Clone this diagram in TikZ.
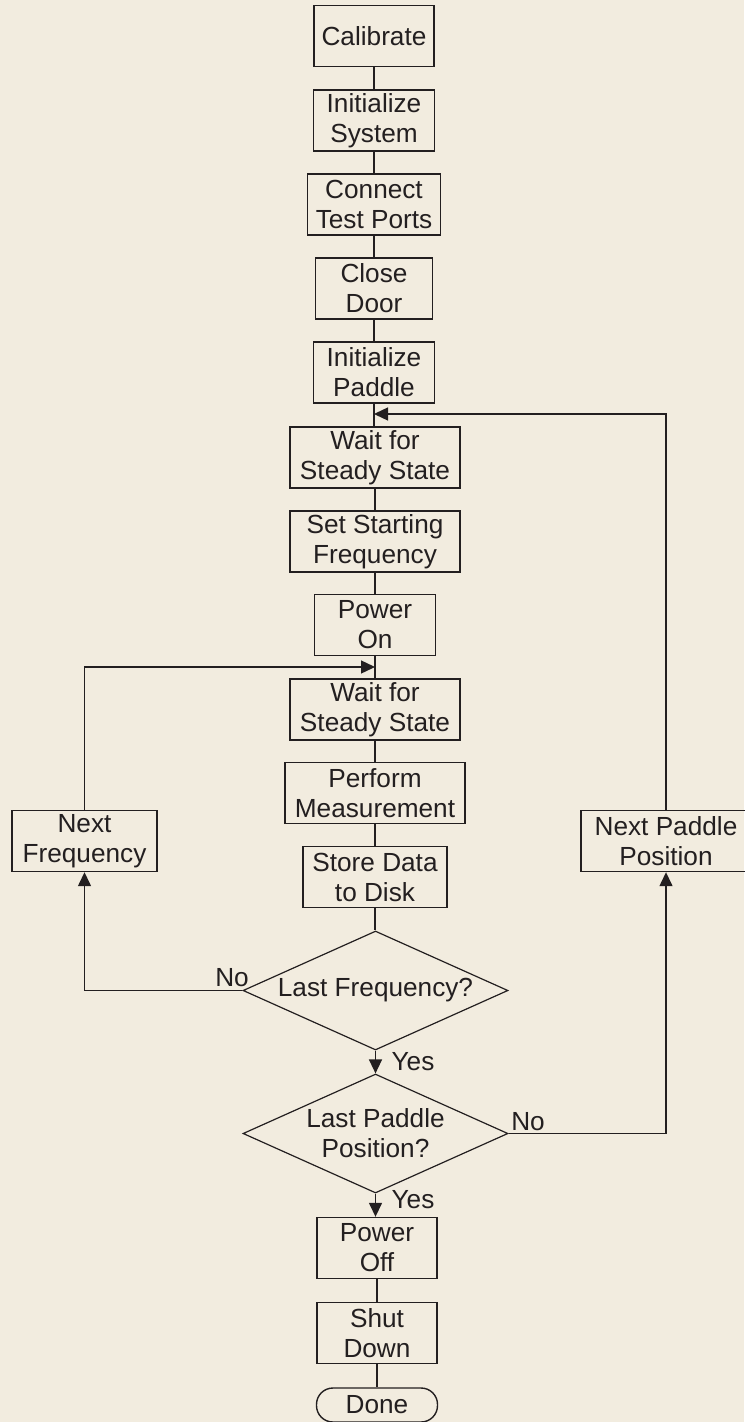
\documentclass[tikz,border=0pt]{standalone}
\usepackage{fontspec}
\setmainfont{Liberation Sans}
\usetikzlibrary{arrows.meta,shapes.geometric}
\definecolor{bg}{RGB}{242,236,223}
\definecolor{ink}{RGB}{35,31,32}
\begin{document}
\begin{tikzpicture}[x=0.5pt,y=-0.5pt,
  every node/.style={font=\fontsize{13.1}{15}\selectfont, text=ink},
  box/.style={draw=ink, line width=0.7pt, align=center, inner sep=0pt, minimum height=30.5pt},
  dec/.style={draw=ink, line width=0.6pt, diamond, shape aspect=2.23, align=center, inner sep=0pt, minimum width=132.5pt, minimum height=59.5pt},
  term/.style={draw=ink, line width=0.7pt, rounded corners=8.2pt, align=center, inner sep=0pt, minimum height=17pt, minimum width=60.5pt},
  conn/.style={draw=ink, line width=0.7pt},
  arr/.style={conn, -{Triangle[length=7pt,width=6.5pt]}},
  lbl/.style={inner sep=0pt}
]
\fill[bg] (0,0) rectangle (744,1422);
\useasboundingbox (0,0) rectangle (744,1422);

\node[box, minimum width=60pt]   (cal) at (374,36)     {Calibrate};
\node[box, minimum width=60.5pt] (ini) at (374,120.5)  {Initialize\\System};
\node[box, minimum width=66.5pt] (con) at (374,204.5)  {Connect\\Test Ports};
\node[box, minimum width=58.5pt] (clo) at (374,288.5)  {Close\\Door};
\node[box, minimum width=60.5pt] (ipd) at (374,372.5)  {Initialize\\Paddle};
\node[box, minimum width=85pt]   (wt1) at (375,457.5)  {Wait for\\Steady State};
\node[box, minimum width=85pt]   (ssf) at (375,541.5)  {Set Starting\\Frequency};
\node[box, minimum width=60.5pt] (pon) at (375,625)    {Power\\On};
\node[box, minimum width=85pt]   (wt2) at (375,709.5)  {Wait for\\Steady State};
\node[box, minimum width=90pt]   (prf) at (375,793)    {Perform\\Measurement};
\node[box, minimum width=72pt]   (sto) at (375,877)    {Store Data\\to Disk};
\node[dec] (d1) at (375.5,990.5)  {Last Frequency?};
\node[dec] (d2) at (375.5,1133.5) {Last Paddle\\Position?};
\node[box, minimum width=60pt]   (pof) at (377,1248)   {Power\\Off};
\node[box, minimum width=60pt]   (shd) at (377,1333)   {Shut\\Down};
\node[term] (don) at (377,1405) {Done};
\node[box, minimum width=72.5pt] (nf) at (84.5,841) {Next\\Frequency};
\node[box, minimum width=85pt]   (np) at (666,841)  {Next Paddle\\Position};

\coordinate (j1) at (374,414);
\coordinate (j2) at (375,667);

\draw[conn] (cal.south) -- (cal.south |- ini.north);
\draw[conn] (ini.south) -- (ini.south |- con.north);
\draw[conn] (con.south) -- (con.south |- clo.north);
\draw[conn] (clo.south) -- (clo.south |- ipd.north);
\draw[conn] (ipd.south) -- (ipd.south |- wt1.north);
\draw[conn] (wt1.south) -- (wt1.south |- ssf.north);
\draw[conn] (ssf.south) -- (ssf.south |- pon.north);
\draw[conn] (pon.south) -- (pon.south |- wt2.north);
\draw[conn] (wt2.south) -- (wt2.south |- prf.north);
\draw[conn] (prf.south) -- (prf.south |- sto.north);
\draw[conn] (sto.south) -- (sto.south |- d1.north);
\draw[arr]  (d1.south) -- (d1.south |- d2.north);
\draw[arr]  (d2.south) -- (d2.south |- pof.north);
\draw[conn] (pof.south) -- (pof.south |- shd.north);
\draw[conn] (shd.south) -- (shd.south |- don.north);

\draw[arr] (d1.west) -| (nf.south);
\draw[arr] (nf.north) |- (j2);
\draw[arr] (d2.east) -| (np.south);
\draw[arr] (np.north) |- (j1);

\node[lbl] (no1)  at (232,978)  {No};
\node[lbl] (yes1) at (413,1062) {Yes};
\node[lbl] (no2)  at (528,1122) {No};
\node[lbl] (yes2) at (413,1200) {Yes};
\end{tikzpicture}
\end{document}
